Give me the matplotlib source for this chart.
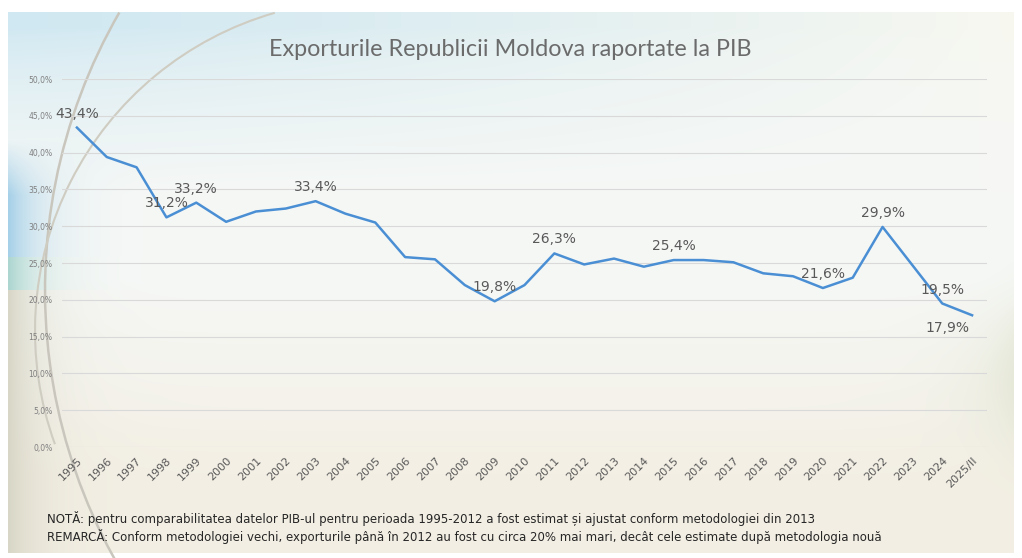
import numpy as np
import matplotlib.pyplot as plt
from matplotlib.patches import Arc

# data
years = [str(y) for y in range(1995, 2025)] + ['2025/II']
export_pib = [43.4, 39.4, 38.0, 31.2, 33.2, 30.6, 32.0, 32.4, 33.4, 31.7,
              30.5, 25.8, 25.5, 22.0, 19.8, 22.0, 26.3, 24.8, 25.6, 24.5,
              25.4, 25.4, 25.1, 23.6, 23.2, 21.6, 23.0, 29.9, 24.7, 19.5, 17.9]
labeled_years = ['1995', '1998', '1999', '2003', '2009', '2011', '2015',
                 '2020', '2022', '2024', '2025/II']
y_ticks = [0, 5, 10, 15, 20, 25, 30, 35, 40, 45, 50]

title = 'Exporturile Republicii Moldova raportate la PIB'
note1 = 'NOTĂ: pentru comparabilitatea datelor PIB-ul pentru perioada 1995-2012 a fost estimat și ajustat conform metodologiei din 2013'
note2 = 'REMARCĂ: Conform metodologiei vechi, exporturile până în 2012 au fost cu circa 20% mai mari, decât cele estimate după metodologia nouă'

W, H = 1022, 558
fig = plt.figure(figsize=(W / 100, H / 100), dpi=100)
fig.set_facecolor('w')

# background picture (gradient + arcs)
bg = fig.add_axes([0, 0, 1, 1], zorder=0)
X, Y = np.meshgrid(np.linspace(0, 1, W), np.linspace(0, 1, H))
top_l = np.array([208, 232, 242]) / 255
top_r = np.array([248, 248, 240]) / 255
mid = np.array([246, 248, 246]) / 255
bot = np.array([243, 239, 228]) / 255
sky = top_l + (top_r - top_l) * (X[..., None] ** 1.2)
t1 = np.clip((Y - 0.05) / 0.3, 0, 1)[..., None] ** 0.7
img = sky * (1 - t1) + mid * t1
t2 = np.clip((Y - 0.5) / 0.35, 0, 1)[..., None]
img = img * (1 - t2) + bot * t2
# left blue / beige band
left = np.exp(-np.clip(X - 0.008, 0, 1) / 0.03)[..., None]
band_col = np.where((Y < 0.47)[..., None], np.array([165, 208, 232]) / 255,
                    np.array([216, 214, 198]) / 255)
band_col = np.where(((Y > 0.46) & (Y < 0.52))[..., None], np.array([172, 214, 208]) / 255, band_col)
lw = left * np.clip((Y - 0.25) / 0.1, 0, 1)[..., None]
img = img * (1 - lw) + band_col * lw
# right greenish tint
rw = 0.8 * (np.exp(-(1 - X) / 0.035) * np.exp(-((Y - 0.68) / 0.13) ** 2))[..., None]
img = img * (1 - rw) + np.array([222, 226, 205]) / 255 * rw
# white border
img[:12, :] = 1
img[:, :8] = 1
img[:, 1014:] = 1
img[553:, :] = 1
bg.imshow(img, extent=[0, W, H, 0], aspect='auto')
bg.add_patch(Arc((600, 290), 1110, 1110, theta1=135, theta2=210, color='#c9c6bd', lw=1.8))
bg.add_patch(Arc((366, 331), 662, 662, theta1=160, theta2=254, color='#cfccc2', lw=1.5))
bg.set_xlim(0, W)
bg.set_ylim(H, 0)
bg.axis('off')

# chart
ax = fig.add_axes([62 / W, 1 - 447 / H, (987 - 62) / W, (447 - 79) / H], zorder=1)
ax.patch.set_alpha(0)
x = np.arange(len(years))
ax.plot(x, export_pib, color='#4a8fd4', lw=1.8, zorder=3)

for i, (yr, v) in enumerate(zip(years, export_pib)):
    if yr not in labeled_years:
        continue
    dx, dy, va = 0, 5, 'bottom'
    if yr == '2025/II':
        dx, dy, va = -18, -4, 'top'
    ax.annotate(f'{v:.1f}%'.replace('.', ','), (i, v), xytext=(dx, dy),
                textcoords='offset points', ha='center', va=va,
                fontsize=10, color='#595959')

ax.set_xlim(-0.5, len(years) - 0.5)
ax.set_ylim(0, 50)
ax.set_yticks(y_ticks)
ax.set_yticklabels([f'{v:.1f}%'.replace('.', ',') for v in y_ticks], fontsize=5.5, color='#7f7f7f')
ax.set_xticks(x)
ax.set_xticklabels(years, rotation=45, ha='right', rotation_mode='anchor',
                   fontsize=8, color='#595959')
ax.grid(axis='y', color='#d9d9d9', lw=0.8)
ax.tick_params(length=0)
ax.tick_params(axis='x', pad=6)
ax.tick_params(axis='y', pad=7)
for s in ax.spines.values():
    s.set_visible(False)

fig.text(510 / W, 1 - 50 / H, title, ha='center', va='center',
         fontsize=16.8, color='#6b6b6b', family=['Lato', 'DejaVu Sans'])
fig.text(47 / W, 1 - 518 / H, note1, ha='left', va='center', fontsize=8.5,
         color='#262626', family=['Liberation Sans Narrow', 'DejaVu Sans'])
fig.text(47 / W, 1 - 537 / H, note2, ha='left', va='center', fontsize=8.5,
         color='#262626', family=['Liberation Sans Narrow', 'DejaVu Sans'])

fig.savefig('out.png', dpi=100)
